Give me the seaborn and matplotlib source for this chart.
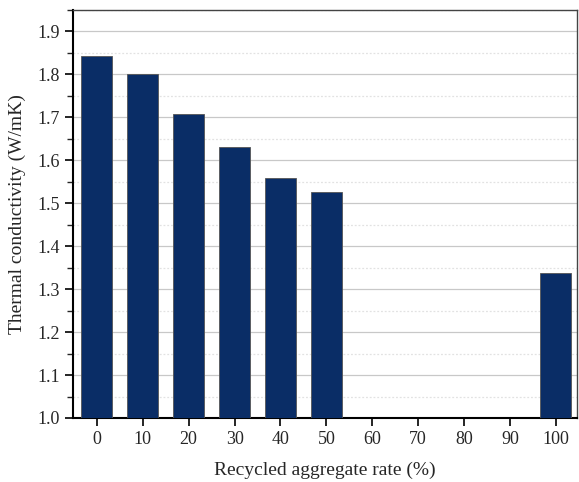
import numpy as np
import pandas as pd
import matplotlib
matplotlib.use("Agg")
import matplotlib.pyplot as plt
import seaborn as sns
from matplotlib.ticker import MultipleLocator

# data
rates = ["0", "10", "20", "30", "40", "50", "60", "70", "80", "90", "100"]
conductivity = [1.844, 1.802, 1.709, 1.632, 1.559, 1.527,
                np.nan, np.nan, np.nan, np.nan, 1.338]

df = pd.DataFrame({"rate": rates, "k": conductivity})

sns.set_style("white")
plt.rcParams["font.family"] = ["Liberation Serif", "DejaVu Serif"]

fig = plt.figure(figsize=(5.79, 4.82), dpi=100)
ax = fig.add_axes([73 / 579, 64 / 482, 504 / 579, 408 / 482])

sns.barplot(data=df, x="rate", y="k", order=rates, color="#0a2d66",
            saturation=1, width=0.68, edgecolor="#555555", linewidth=0.6,
            ax=ax, zorder=3)

ax.set_ylim(1.0, 1.95)
ax.set_xlim(-0.52, 10.46)
ax.yaxis.set_major_locator(MultipleLocator(0.1))
ax.yaxis.set_minor_locator(MultipleLocator(0.05))
ax.grid(axis="y", which="major", color="#c8c8c8", linewidth=0.9, zorder=0)
ax.grid(axis="y", which="minor", color="#e2e2e2", linewidth=0.9,
        linestyle=(0, (1.5, 1.5)), zorder=0)
ax.set_axisbelow(True)

ax.tick_params(axis="both", which="major", direction="out", length=6,
               width=1.2, labelsize=13, color="black", left=True, bottom=True)
ax.tick_params(axis="y", which="minor", direction="out", length=4,
               width=1.0, left=True)

for side in ["left", "bottom"]:
    ax.spines[side].set_color("black")
    ax.spines[side].set_linewidth(1.5)
for side in ["top", "right"]:
    ax.spines[side].set_color("#444444")
    ax.spines[side].set_linewidth(1.0)

ax.set_xlabel("Recycled aggregate rate (%)", fontsize=14, labelpad=10)
ax.set_ylabel("Thermal conductivity (W/mK)", fontsize=14, labelpad=8)

fig.savefig("out.png", dpi=100)
